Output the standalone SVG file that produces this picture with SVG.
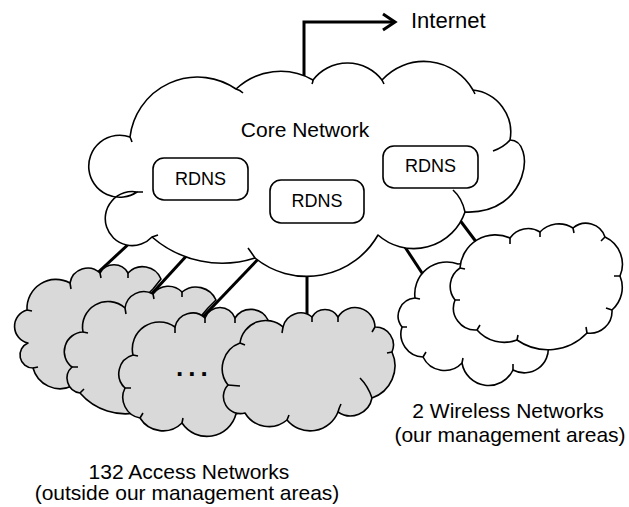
<svg xmlns="http://www.w3.org/2000/svg" width="629" height="507" viewBox="0 0 629 507">
<style>
.cloud{stroke:#000;stroke-width:1.6;stroke-linejoin:round}
.core{fill:#fff}
.access{fill:#d9d9d9}
.wireless{fill:#fff}
.tick{fill:none;stroke:#000;stroke-width:1.6}
.conn{fill:none;stroke:#000;stroke-width:3}
.box{fill:#fff;stroke:#000;stroke-width:1.6}
text{font-family:"Liberation Sans",Arial,Helvetica,sans-serif;fill:#000}
.lbl{font-size:21px}
.rd{font-size:18px;text-anchor:middle}
</style>
<g id="connectors">
<polyline class="conn" points="304,86 304,22 394,22"/>
<polyline class="conn" points="383,14 395,22 383,30" stroke-linejoin="miter"/>
<line class="conn" x1="146" y1="228" x2="92" y2="278"/>
<line class="conn" x1="190" y1="252" x2="146" y2="300"/>
<line class="conn" x1="263" y1="254" x2="199" y2="321"/>
<line class="conn" x1="307" y1="265" x2="307" y2="322"/>
<line class="conn" x1="401" y1="241" x2="424" y2="276"/>
<line class="conn" x1="456" y1="215" x2="480" y2="247"/>
</g>
<g id="core-network">
<path class="cloud core" d="M130,137 A68,68 0 0 1 236,89 A65,65 0 0 1 313,80 A43.5,43.5 0 0 1 382,80 A56.5,56.5 0 0 1 473,90 A42.5,42.5 0 0 1 510,140 C536,140 530,215 465,212 A54,54 0 0 1 378,235 A82,82 0 0 1 255,258 A107,107 0 0 1 152,237 A27,27 0 1 1 137,192 A31,31 0 1 1 130,137 Z"/>
<path class="tick" d="M510,140 Q504,147 493,151 M453,190 Q462,198 465,212 M236,89 Q240,90 243,93 M255,258 Q251,252 248,248 M152,237 Q155,236 158,235 M137,192 L143,192 M130,137 Q131,139 132,142 M382,80 Q383,82 384,84 M473,90 Q474,92 475,94 M313,80 Q313,82 312,84"/>
<text class="lbl" x="305" y="137" text-anchor="middle">Core Network</text>
</g>
<g id="rdns1">
<rect class="box" x="153" y="158" width="95" height="42" rx="11"/>
<text class="rd" x="200.5" y="185">RDNS</text>
</g>
<g id="rdns2">
<rect class="box" x="270" y="180" width="94" height="43" rx="11"/>
<text class="rd" x="317" y="207">RDNS</text>
</g>
<g id="rdns3">
<rect class="box" x="383" y="146" width="95" height="42" rx="11"/>
<text class="rd" x="430.5" y="172">RDNS</text>
</g>
<g id="internet">
<text x="411" y="28" style="font-size:22px">Internet</text>
</g>
<g id="access-network-1">
<path class="cloud access" d="M28,343 A17,17 0 0 1 27,310 A29,29 0 0 1 70,283 A18,18 0 0 1 100,273 A16,16 0 0 1 128,273 A20,20 0 0 1 161,279 L153,289 L140,302 L180,330 L170,372 L72,386 A28,28 0 0 1 33,368 A13,13 0 0 1 28,343 Z"/>
<path class="tick" d="M27,310 L32,311 M70,283 L71,289 M100,273 L101,278 M128,273 L128,278 M33,368 L38,367"/>
</g>
<g id="access-network-2">
<path class="cloud access" d="M83,332 A25.5,25.5 0 0 1 125,308 A19,19 0 0 1 153,294 A19,19 0 0 1 182,292 A22,22 0 0 1 216,300 L208,308 L196,322 L250,360 L200,405 L140,412 A60,60 0 0 1 80,393 A15,15 0 0 1 72,367 A19.5,19.5 0 0 1 83,332 Z"/>
<path class="tick" d="M125,308 L126,314 M153,294 L154,299 M182,292 L182,297 M72,367 L78,367 M80,393 L84,389 M83,332 L88,333"/>
</g>
<g id="access-network-3">
<path class="cloud access" d="M133,355 A27,27 0 0 1 175,327 A18,18 0 0 1 205,318 A16,16 0 0 1 235,318 A19,19 0 0 1 268,320 L278,345 L272,400 L236,414 A30,30 0 0 1 182,423 A27,27 0 0 1 140,418 A21,21 0 0 1 125,388 A19.5,19.5 0 0 1 133,355 Z"/>
<path class="tick" d="M175,327 L175,333 M205,318 L205,323 M235,318 L235,323 M125,388 L131,388 M140,418 L143,413 M182,423 L183,418 M133,355 L138,356"/>
<text x="176" y="376" style="font-size:26px;font-weight:bold;letter-spacing:5px">...</text>
</g>
<g id="access-network-4">
<path class="cloud access" d="M240,343 A26,26 0 0 1 283,327 A18,18 0 0 1 312,317 A15,15 0 0 1 338,317 A20,20 0 0 1 375,327 A18,18 0 0 1 392,352 A34,34 0 0 1 372,398 A22,22 0 0 1 338,412 A30,30 0 0 1 287,420 A28,28 0 0 1 245,413 A17,17 0 0 1 228,385 A27,27 0 0 1 240,343 Z"/>
<path class="tick" d="M283,327 L282,333 M312,317 L312,322 M338,317 L338,322 M375,327 L372,332 M392,352 L387,353 M372,398 Q368,386 360,378 M338,412 Q339,408 341,404 M287,420 L289,415 M228,385 L240,386 M240,343 L245,345"/>
</g>
<g id="access-label">
<text class="lbl" x="189" y="479" text-anchor="middle">132 Access Networks</text>
<text class="lbl" x="187" y="500" text-anchor="middle">(outside our management areas)</text>
</g>
<g id="wireless-network-1">
<path class="cloud wireless" d="M415,298 A32,32 0 0 1 458,264 L480,262 L540,300 L548,345 A24,24 0 0 1 513,370 A27,27 0 0 1 462,363 A24,24 0 0 1 423,357 A23,23 0 0 1 402,327 A18,18 0 0 1 415,298 Z"/>
<path class="tick" d="M462,363 L463,358 M423,357 L426,352 M402,327 L407,327 M513,370 L513,364 M415,298 L420,299"/>
</g>
<g id="wireless-network-2">
<path class="cloud wireless" d="M460,268 A35.5,35.5 0 0 1 510,238 A22,22 0 0 1 540,232 A26,26 0 0 1 573,228 A20,20 0 0 1 605,237 A30,30 0 0 1 620,276 A30,30 0 0 1 612,310 A22,22 0 0 1 587,333 A54,54 0 0 1 517,340 A36,36 0 0 1 477,330 A22,22 0 0 1 455,300 A22,22 0 0 1 460,268 Z"/>
<path class="tick" d="M510,238 L510,244 M540,232 L540,237 M573,228 L574,233 M605,237 L601,241 M620,276 L614,276 M612,310 L606,308 M587,333 L586,327 M517,340 L518,335 M477,330 L480,325 M455,300 L460,300 M460,268 L465,269"/>
</g>
<g id="wireless-label">
<text class="lbl" x="508" y="418" text-anchor="middle">2 Wireless Networks</text>
<text class="lbl" x="510" y="442" text-anchor="middle">(our management areas)</text>
</g>
</svg>
